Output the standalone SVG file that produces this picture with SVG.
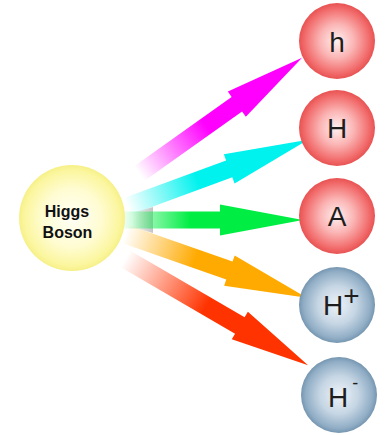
<svg xmlns="http://www.w3.org/2000/svg" width="385" height="435" viewBox="0 0 385 435">
<defs>
<style>
.lbl{font-family:"Liberation Sans",Arial,sans-serif;font-size:28px;fill:#1e1e1e}
.hb{font-family:"Liberation Sans",Arial,sans-serif;font-size:16px;font-weight:bold;fill:#111;text-anchor:middle}
</style>
<radialGradient id="gRed" cx="50%" cy="50%" r="50%">
<stop offset="0" stop-color="#fff0f0"/>
<stop offset="0.45" stop-color="#fbb4b4"/>
<stop offset="0.85" stop-color="#f26c6c"/>
<stop offset="1" stop-color="#e85252"/>
</radialGradient>
<radialGradient id="gBlue" cx="50%" cy="50%" r="50%">
<stop offset="0" stop-color="#eef3f8"/>
<stop offset="0.5" stop-color="#c6d6e4"/>
<stop offset="0.88" stop-color="#90adc5"/>
<stop offset="1" stop-color="#7595b0"/>
</radialGradient>
<radialGradient id="gYel" cx="50%" cy="50%" r="50%">
<stop offset="0" stop-color="#fffff6"/>
<stop offset="0.55" stop-color="#fffcd2"/>
<stop offset="0.9" stop-color="#fbf69e"/>
<stop offset="1" stop-color="#f6f088"/>
</radialGradient>
<linearGradient id="aM"><stop offset="0.15" stop-color="#ff00ff" stop-opacity="0"/><stop offset="0.5" stop-color="#ff00ff"/></linearGradient>
<linearGradient id="aC"><stop offset="0.18" stop-color="#00f2ee" stop-opacity="0"/><stop offset="0.5" stop-color="#00f2ee"/></linearGradient>
<linearGradient id="aG"><stop offset="0.22" stop-color="#00ee44" stop-opacity="0"/><stop offset="0.52" stop-color="#00ee44"/></linearGradient>
<linearGradient id="aO"><stop offset="0.18" stop-color="#ffaa00" stop-opacity="0"/><stop offset="0.5" stop-color="#ffaa00"/></linearGradient>
<linearGradient id="aR"><stop offset="0.1" stop-color="#ff3300" stop-opacity="0"/><stop offset="0.5" stop-color="#ff3300"/></linearGradient>
<linearGradient id="aS"><stop offset="0" stop-color="#c4c4c4" stop-opacity="0"/><stop offset="1" stop-color="#c4c4c4"/></linearGradient>
</defs>
<g id="connectors">
<polygon points="132,213 153,207 153,233 132,227" fill="url(#aS)"/>
<polygon transform="translate(110.5,194) rotate(-35.4)" points="0,-9 155,-9 155,-15.5 235,0 155,15.5 155,9 0,9" fill="url(#aM)"/>
<polygon transform="translate(87.5,221) rotate(-20.2)" points="0,-9 151,-9 151,-15.5 235,0 151,15.5 151,9 0,9" fill="url(#aC)"/>
<polygon transform="translate(68,220)" points="0,-8.5 152,-8.5 152,-15.5 235,0 152,15.5 152,8.5 0,8.5" fill="url(#aG)"/>
<polygon transform="translate(85,220) rotate(19.3)" points="0,-9.5 153,-9.5 153,-16 235,0 153,16 153,9.5 0,9.5" fill="url(#aO)"/>
<polygon transform="translate(105,247) rotate(30.2)" points="0,-9.5 156,-9.5 156,-16 235,0 156,16 156,9.5 0,9.5" fill="url(#aR)"/>
</g>
<g id="higgs">
<circle cx="72" cy="218" r="53" fill="url(#gYel)"/>
<text class="hb" x="67" y="217">Higgs</text>
<text class="hb" x="67.5" y="238">Boson</text>
</g>
<g id="h">
<circle cx="337" cy="41" r="38" fill="url(#gRed)"/>
<text class="lbl" x="337" y="52" text-anchor="middle">h</text>
</g>
<g id="H">
<circle cx="337" cy="128" r="38" fill="url(#gRed)"/>
<text class="lbl" x="337" y="138" text-anchor="middle">H</text>
</g>
<g id="A">
<circle cx="337" cy="216" r="38" fill="url(#gRed)"/>
<text class="lbl" x="337" y="226" text-anchor="middle">A</text>
</g>
<g id="Hplus">
<circle cx="337" cy="305" r="38" fill="url(#gBlue)"/>
<text class="lbl" x="323" y="315">H<tspan dy="-10">+</tspan></text>
</g>
<g id="Hminus">
<circle cx="339" cy="395" r="38" fill="url(#gBlue)"/>
<text class="lbl" x="328" y="407">H<tspan dx="4" dy="-18" font-size="18">-</tspan></text>
</g>
</svg>
